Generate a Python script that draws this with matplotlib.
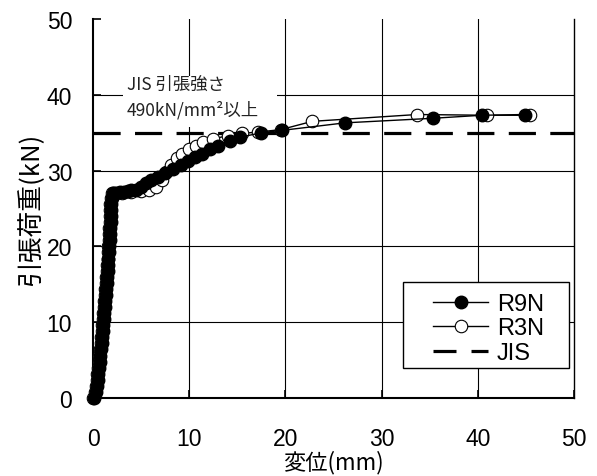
import matplotlib
matplotlib.use('Agg')
import matplotlib.pyplot as plt
from matplotlib.lines import Line2D
from matplotlib.patches import Rectangle

plt.rcParams['font.family'] = ['Liberation Sans', 'Noto Sans CJK JP', 'DejaVu Sans']
JP = ['Noto Sans CJK JP', 'DejaVu Sans']

# R9N (filled circles)
R9N_X = [0.15, 0.30, 0.40, 0.48, 0.56, 0.63, 0.70, 0.77, 0.84, 0.90, 0.96, 1.01,
         1.06, 1.11, 1.16, 1.21, 1.26, 1.31, 1.36, 1.41, 1.46, 1.51, 1.56, 1.61,
         1.66, 1.70, 1.74, 1.77, 1.80, 1.83, 1.86, 1.88, 1.90, 1.95, 2.05,
         2.4, 2.8, 3.2, 3.6, 4.0, 4.5, 5.0, 5.5, 6.0, 6.8, 7.5, 8.3, 9.1, 9.9,
         10.6, 11.3, 12.2, 13.0, 14.2, 15.3, 17.5, 19.6, 26.2, 35.3, 40.4, 44.9]
R9N_Y = [0.0, 0.8, 1.6, 2.4, 3.2, 4.0, 4.8, 5.6, 6.4, 7.2, 8.0, 8.8,
         9.6, 10.4, 11.2, 12.0, 12.8, 13.6, 14.4, 15.2, 16.0, 16.8, 17.6, 18.4,
         19.2, 20.0, 20.8, 21.6, 22.4, 23.2, 24.0, 24.8, 25.6, 26.4, 27.0,
         27.1, 27.2, 27.2, 27.3, 27.4, 27.5, 27.8, 28.3, 28.7, 29.2, 29.7, 30.2, 30.8, 31.3,
         31.8, 32.2, 32.8, 33.3, 33.9, 34.4, 35.0, 35.3, 36.3, 36.9, 37.3, 37.4]

# R3N (open circles)
R3N_X = [0.05, 0.20, 0.30, 0.38, 0.46, 0.53, 0.60, 0.67, 0.74, 0.80, 0.86, 0.91,
         0.96, 1.01, 1.06, 1.11, 1.16, 1.21, 1.26, 1.31, 1.36, 1.41, 1.46, 1.51,
         1.56, 1.60, 1.64, 1.67, 1.70, 1.73, 1.76, 1.78, 1.80, 1.85, 1.95,
         2.2, 3.0, 4.0, 5.0, 5.8, 6.6, 7.2, 7.6, 8.1, 8.7, 9.3, 10.0, 10.7,
         11.4, 12.5, 14.0, 15.5, 17.2, 19.5, 22.8, 33.7, 41.0, 45.4]
R3N_Y = [0.0, 0.8, 1.6, 2.4, 3.2, 4.0, 4.8, 5.6, 6.4, 7.2, 8.0, 8.8,
         9.6, 10.4, 11.2, 12.0, 12.8, 13.6, 14.4, 15.2, 16.0, 16.8, 17.6, 18.4,
         19.2, 20.0, 20.8, 21.6, 22.4, 23.2, 24.0, 24.8, 25.6, 26.4, 27.0,
         27.0, 27.1, 27.2, 27.3, 27.5, 27.8, 28.8, 29.8, 30.7, 31.6, 32.2, 32.8, 33.3,
         33.8, 34.2, 34.6, 34.9, 35.1, 35.4, 36.5, 37.4, 37.3, 37.3]

JIS_Y = 35
TICKS = [0, 10, 20, 30, 40, 50]
GRID = [10, 20, 30, 40]
NOTE1 = 'JIS 引張強さ'
NOTE2 = '490kN/mm²以上'

fig = plt.figure(figsize=(5.97, 4.77), dpi=100)
ax = fig.add_axes([93 / 597, 1 - 399 / 477, 481 / 597, 379 / 477])
ax.set_xlim(0, 50)
ax.set_ylim(0, 50)

for g in GRID:
    ax.axhline(g, color='black', lw=0.8, zorder=0.5)
    ax.axvline(g, color='black', lw=0.8, zorder=0.5)

# white box behind the note
ax.add_patch(Rectangle((3.1, 35.8), 16.0, 6.7, facecolor='white', edgecolor='none', zorder=1))

ax.axhline(JIS_Y, color='black', lw=2.3, dashes=(8.5, 4.5), zorder=2)
ax.plot(R3N_X, R3N_Y, color='black', lw=1.0, marker='o', ms=9, mfc='white',
        mec='black', mew=0.8, zorder=3, clip_on=False)
ax.plot(R9N_X, R9N_Y, color='black', lw=1.0, marker='o', ms=9, mfc='black',
        mec='black', zorder=4, clip_on=False)

ax.text(3.5, 41.4, NOTE1, family=JP, fontsize=12.5, color='#222222', va='center', ha='left', zorder=5)
ax.text(3.5, 38.1, NOTE2, family=JP, fontsize=12.5, color='#222222', va='center', ha='left', zorder=5)

ax.spines['top'].set_visible(False)
ax.spines['right'].set_linewidth(1.0)
ax.spines['left'].set_linewidth(1.5)
ax.spines['bottom'].set_linewidth(1.5)
ax.set_xticks(TICKS)
ax.set_yticks(TICKS)
ax.tick_params(axis='both', direction='in', length=6, width=1.2, labelsize=16.5)
ax.tick_params(axis='y', pad=15)
ax.tick_params(axis='x', pad=21)

ax.set_xlabel('変位(mm)', family=JP, fontsize=16, labelpad=0)
ax.set_ylabel('引張荷重(kN)', family=JP, fontsize=18.5, labelpad=2)

# legend frame
ax.add_patch(Rectangle((0.6445, 0.0792), 0.3451, 0.2269, transform=ax.transAxes,
                       facecolor='white', edgecolor='black', lw=1.0, zorder=6))
handles = [
    Line2D([], [], color='black', lw=1.0, marker='o', ms=9, mfc='black'),
    Line2D([], [], color='black', lw=1.0, marker='o', ms=9, mfc='white', mew=0.8),
    Line2D([], [], color='black', lw=2.3, dashes=(7.2, 4.7)),
]
leg = ax.legend(handles, ['R9N', 'R3N', 'JIS'], loc='center left',
                bbox_to_anchor=(0.7069, 0.1834), frameon=False, fontsize=17,
                handlelength=2.33, handletextpad=0.38, labelspacing=0.1,
                borderpad=0, borderaxespad=0)
leg.set_zorder(7)

fig.savefig('out.png', dpi=100)
